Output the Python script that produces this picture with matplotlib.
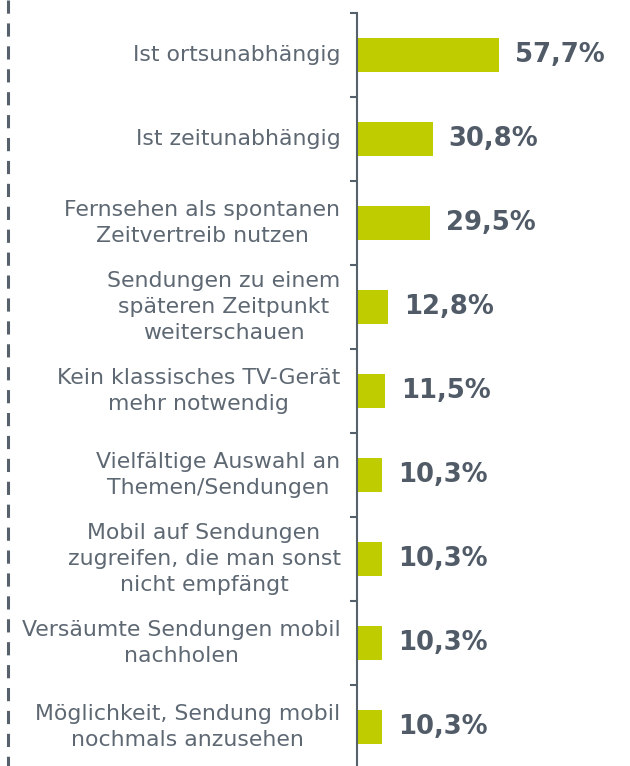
import matplotlib.pyplot as plt
from matplotlib.lines import Line2D
from matplotlib.transforms import offset_copy

categories = [
    'Ist ortsunabhängig',
    'Ist zeitunabhängig',
    'Fernsehen als spontanen\nZeitvertreib nutzen',
    'Sendungen zu einem\nspäteren Zeitpunkt\nweiterschauen',
    'Kein klassisches TV-Gerät\nmehr notwendig',
    'Vielfältige Auswahl an\nThemen/Sendungen',
    'Mobil auf Sendungen\nzugreifen, die man sonst\nnicht empfängt',
    'Versäumte Sendungen mobil\nnachholen',
    'Möglichkeit, Sendung mobil\nnochmals anzusehen',
]
values = [57.7, 30.8, 29.5, 12.8, 11.5, 10.3, 10.3, 10.3, 10.3]
value_labels = ['57,7%', '30,8%', '29,5%', '12,8%', '11,5%', '10,3%', '10,3%', '10,3%', '10,3%']

bar_color = '#bfcd00'
axis_color = '#56616c'
label_color = '#5e6873'
value_color = '#505b67'

fig = plt.figure(figsize=(6.3, 7.66), dpi=100)
ax = fig.add_axes([356.5 / 630, -3 / 766, 1 - 356.5 / 630, 756 / 766])

pos = list(range(len(categories)))
ax.barh(pos, values, height=0.4, color=bar_color)
ax.set_ylim(len(categories) - 0.5, -0.5)
ax.set_xlim(0, 110.5)

for spine in ['top', 'right', 'bottom']:
    ax.spines[spine].set_visible(False)
ax.spines['left'].set_color(axis_color)
ax.spines['left'].set_linewidth(1.5)
ax.set_xticks([])
ax.set_yticks([p - 0.5 for p in pos] + [len(categories) - 0.5])
ax.set_yticklabels([])
ax.tick_params(axis='y', direction='out', length=5, width=1.5, color=axis_color)

# category labels to the left of the axis
lbl_tr = offset_copy(ax.get_yaxis_transform(), fig=fig, x=-16, y=0, units='dots')
for p, cat in zip(pos, categories):
    ax.text(0, p, cat, transform=lbl_tr, ha='right', va='center', multialignment='center',
            fontsize=15.8, color=label_color, linespacing=1.4)

# value labels right of the bars
val_tr = offset_copy(ax.transData, fig=fig, x=16, y=0, units='dots')
for p, v, t in zip(pos, values, value_labels):
    ax.text(v, p, t, transform=val_tr, ha='left', va='center',
            fontsize=18.6, fontweight='bold', color=value_color)

# dashed divider on the left edge
plt.rcParams['lines.scale_dashes'] = False
line = Line2D([8 / 630, 8 / 630], [1, 0], transform=fig.transFigure,
              color=axis_color, linewidth=2.2, dashes=(9.5, 7))
fig.add_artist(line)

fig.savefig('out.png', dpi=100)
